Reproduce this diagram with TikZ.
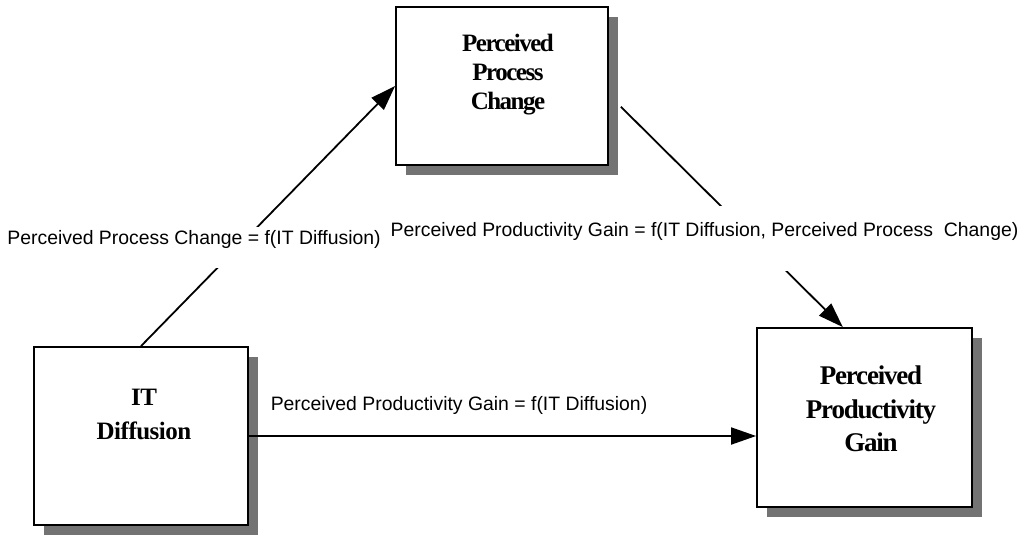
\documentclass[tikz,border=0pt]{standalone}
\usepackage{fontspec}
\setmainfont{Liberation Serif}
\newfontfamily\labelfont{Liberation Sans}
\newfontfamily\boxfontA{Liberation Serif}[LetterSpace=-6]
\newfontfamily\boxfontB{Liberation Serif}[LetterSpace=-2]
\newfontfamily\boxfontC{Liberation Serif}[LetterSpace=-4.5]
\usetikzlibrary{arrows.meta,shadows,calc}
\tikzset{
  box/.style={draw, line width=1.8pt, fill=white, inner sep=0pt,
    drop shadow={shadow xshift=10pt, shadow yshift=-10pt, fill=black!55, opacity=1}},
  arr/.style={line width=1.8pt, -{Triangle[length=25pt,width=17pt]}},
  lbl/.style={font=\labelfont\fontsize{19.4}{22}\selectfont, inner sep=0pt},
  boxtext/.style={align=center, inner sep=0pt}
}
\begin{document}
\begin{tikzpicture}[x=1pt,y=-1pt]
\useasboundingbox (0,0) rectangle (1021,536);
% boxes
\node[box, minimum width=212pt, minimum height=158pt] (ppc) at (502,86) {};
\node[box, minimum width=214pt, minimum height=178pt] (it) at (141,436) {};
\node[box, minimum width=215pt, minimum height=179pt] (ppg) at (864.5,417.5) {};
% box texts
\node[boxtext, font=\boxfontA\bfseries\fontsize{25}{29}\selectfont] (ppcT) at (508,75) {Perceived\\Process\\Change};
\node[boxtext, font=\boxfontB\bfseries\fontsize{25}{34}\selectfont] (itT) at (144,414) {IT\\Diffusion};
\node[boxtext, font=\boxfontC\bfseries\fontsize{27}{33.5}\selectfont] (ppgT) at (871,409) {Perceived\\Productivity\\Gain};
% connectors
\draw[arr] (it.north) -- (ppc.west);
\draw[arr] ($(ppc.north east)!0.63!(ppc.south east)+(12,0)$) -- ($(ppg.north west)!0.4!(ppg.north east)$);
\draw[arr] (it.east) -- (it.east -| ppg.west);
% labels
\node[lbl, fill=white, anchor=base, inner xsep=2pt] (l1) at (194,244)
  {\rule[-24pt]{0pt}{41pt}Perceived Process Change = f(IT Diffusion)};
\node[lbl, fill=white, anchor=base, inner xsep=2pt] (l2) at (704.5,236)
  {\rule[-35pt]{0pt}{65pt}Perceived Productivity Gain = f(IT Diffusion, Perceived Process\ \ Change)};
\node[lbl, anchor=base] (l3) at (459,410) {Perceived Productivity Gain = f(IT Diffusion)};
\end{tikzpicture}
\end{document}
